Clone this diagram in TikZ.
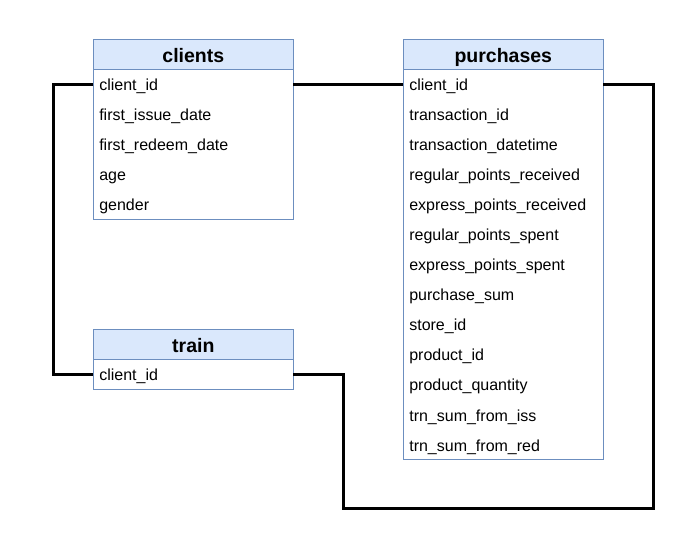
\documentclass[tikz,border=0pt]{standalone}
\usepackage{fontspec}
\setmainfont{Liberation Sans}
\usetikzlibrary{positioning}
\definecolor{hdrblue}{HTML}{DAE8FC}
\definecolor{edgeblue}{HTML}{6C8EBF}

\begin{document}
\begin{tikzpicture}[x=1pt,y=-1pt,node distance=0pt,outer sep=0pt]
    \tikzstyle{hdr}=[draw=edgeblue,line width=0.8pt,fill=hdrblue,minimum width=200pt,minimum height=30pt,inner sep=0pt,text height=16.8pt,text depth=0pt,font=\fontsize{19.5}{23}\selectfont\bfseries]
    \tikzstyle{fld}=[minimum height=30pt,inner xsep=6pt,inner ysep=0pt,text width=188pt,align=left,text height=13.4pt,text depth=0pt,font=\fontsize{16}{19}\selectfont]
    \tikzstyle{link}=[line width=3pt,black]
    \useasboundingbox (0,0) rectangle (689,540);
    \node[hdr]    (cl-0)  at (193.3,54.3)   {clients};
    \foreach \f [count=\i, remember=\i as \j (initially 0)] in {client\_id,first\_issue\_date,first\_redeem\_date,age,gender}
        \node[fld]  (cl-\i)  [below=of cl-\j]  {\f};
    \node[hdr]    (pu-0)  at (503.3,54.3)   {purchases};
    \foreach \f [count=\i, remember=\i as \j (initially 0)] in {client\_id,transaction\_id,transaction\_datetime,regular\_points\_received,express\_points\_received,regular\_points\_spent,express\_points\_spent,purchase\_sum,store\_id,product\_id,product\_quantity,trn\_sum\_from\_iss,trn\_sum\_from\_red}
        \node[fld]  (pu-\i)  [below=of pu-\j]  {\f};
    \node[hdr]    (tr-0)  at (193.3,344.3)  {train};
    \node[fld]    (tr-1)  [below=of tr-0]   {client\_id};
    \draw[edgeblue,line width=0.8pt] (cl-0.north west) rectangle (cl-5.south east)
        (pu-0.north west) rectangle (pu-13.south east)
        (tr-0.north west) rectangle (tr-1.south east);
    \coordinate (turn) at (343.3,508.3);
    \draw[link] (cl-1.west) -- ++(-40,0) |- (tr-1.west);
    \draw[link] (cl-1.east) -- (pu-1.west);
    \draw[link] (pu-1.east) -- ++(50,0) |- (turn) |- (tr-1.east);
\end{tikzpicture}
\end{document}
